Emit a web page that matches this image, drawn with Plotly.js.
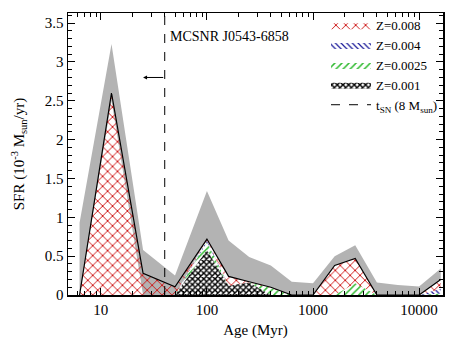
<!DOCTYPE html>
<html>
<head>
<meta charset="utf-8">
<script src="https://cdn.plot.ly/plotly-3.0.1.min.js"></script>
<style>
  html, body { margin: 0; padding: 0; background: #fff; }
  #plot { width: 453px; height: 340px; }
</style>
</head>
<body>
<div id="plot"></div>
<script>
// Age bins (Myr)
const ages = [6.3, 12.6, 25, 50, 100, 160, 250, 400, 630, 1000, 1600, 2500, 4000, 6300, 10000, 16000];

// SFR per metallicity (10^-3 Msun/yr), stacked bottom to top
const sfrZ001  = [0, 0,   0,    0,     0.58, 0.12, 0.16, 0,    0, 0, 0,    0,    0, 0, 0, 0];
const sfrZ0025 = [0, 0,   0,    0,     0.10, 0,    0,    0.09, 0, 0, 0,    0.15, 0, 0, 0, 0.02];
const sfrZ004  = [0, 0,   0,    0,     0.02, 0,    0,    0,    0, 0, 0,    0,    0, 0, 0, 0.06];
const sfrZ008  = [0, 2.6, 0.28, 0.105, 0.02, 0.12, 0.01, 0.01, 0, 0, 0.38, 0.32, 0, 0, 0, 0.12];

// error band of the total SFR
const errLow  = [0,    2.5,  0,    0,    0.72, 0.24, 0.17, 0.1,  0,    0,    0.38, 0.47, 0,    0,    0,    0.2];
const errHigh = [0.93, 3.23, 0.58, 0.25, 1.34, 0.70, 0.49, 0.38, 0.17, 0.15, 0.50, 0.64, 0.16, 0.13, 0.11, 0.34];

const tSN = 40;          // Myr
const tArrowTo = 25;     // Myr
const arrowY = 2.8;
const yMax = 3.63;

const xTickVals = [10, 100, 1000, 10000];
const xTickText = ['10', '100', '1000', '10000'];

const FONT = 'Liberation Serif, Times New Roman, serif';

// cumulative sums for the stacked areas
const cum = [];
let run = ages.map(() => 0);
[sfrZ001, sfrZ0025, sfrZ004, sfrZ008].forEach(arr => {
  run = run.map((v, i) => v + arr[i]);
  cum.push(run.slice());
});
const total = cum[3];

const noPat = 'rgba(0,0,0,0)';

const traceLow = { x: ages, y: errLow, type: 'scatter', mode: 'lines', line: {width: 0}, showlegend: false, hoverinfo: 'skip' };
const traceHigh = { x: ages, y: errHigh, type: 'scatter', mode: 'lines', line: {width: 0}, fill: 'tonexty', fillcolor: '#b3b3b3', showlegend: false, hoverinfo: 'skip' };

const traceZ001 = { x: ages, y: cum[0], type: 'scatter', mode: 'lines', line: {width: 0, color: 'black'}, fill: 'tozeroy', fillcolor: noPat,
  fillpattern: {shape: 'x', size: 4, solidity: 0.6, fgcolor: 'black', bgcolor: noPat}, name: 'Z=0.001', legendrank: 4 };
const traceZ0025 = { x: ages, y: cum[1], type: 'scatter', mode: 'lines', line: {width: 0, color: '#22aa22'}, fill: 'tonexty', fillcolor: noPat,
  fillpattern: {shape: '/', size: 5, solidity: 0.3, fgcolor: '#33bb33', bgcolor: noPat}, name: 'Z=0.0025', legendrank: 3 };
const traceZ004 = { x: ages, y: cum[2], type: 'scatter', mode: 'lines', line: {width: 0, color: '#1a1a99'}, fill: 'tonexty', fillcolor: noPat,
  fillpattern: {shape: '\\', size: 4, solidity: 0.3, fgcolor: '#1a1a99', bgcolor: noPat}, name: 'Z=0.004', legendrank: 2 };
const traceZ008 = { x: ages, y: cum[3], type: 'scatter', mode: 'lines', line: {width: 0, color: '#cc2222'}, fill: 'tonexty', fillcolor: noPat,
  fillpattern: {shape: 'x', size: 7, solidity: 0.25, fgcolor: '#cc1111', bgcolor: noPat}, name: 'Z=0.008', legendrank: 1 };

const traceTotal = { x: ages, y: total, type: 'scatter', mode: 'lines', line: {color: 'black', width: 1.2}, showlegend: false, hoverinfo: 'skip' };
const traceTSN = { x: [tSN, tSN], y: [0, yMax], type: 'scatter', mode: 'lines', line: {color: 'black', width: 1, dash: 'dash'},
  name: 't<sub>SN</sub> (8 M<sub>sun</sub>)', legendrank: 5 };

const axisCommon = {
  showline: true, linecolor: 'black', linewidth: 1.5, mirror: 'ticks',
  ticks: 'inside', ticklen: 7, tickwidth: 1, tickcolor: 'black',
  showgrid: false, zeroline: false,
  tickfont: {family: FONT, size: 15, color: 'black'}
};

const layout = {
  width: 453, height: 340,
  margin: {l: 68, r: 10, t: 10, b: 45},
  paper_bgcolor: 'white', plot_bgcolor: 'white',
  font: {family: FONT, color: 'black'},
  xaxis: Object.assign({}, axisCommon, {
    type: 'log', range: [Math.log10(4.9), Math.log10(16800)],
    tickvals: xTickVals, ticktext: xTickText,
    minor: {ticks: 'inside', ticklen: 4, tickcolor: 'black', dtick: 'D1', showgrid: false},
    title: {text: 'Age (Myr)', font: {family: FONT, size: 15}, standoff: 8}
  }),
  yaxis: Object.assign({}, axisCommon, {
    range: [0, yMax], dtick: 0.5,
    minor: {ticks: 'inside', ticklen: 4, tickcolor: 'black', dtick: 0.1, showgrid: false},
    title: {text: 'SFR (10<sup>-3</sup> M<sub>sun</sub>/yr)', font: {family: FONT, size: 15}, standoff: 16}
  }),
  legend: {x: 1, y: 1.01, xanchor: 'right', yanchor: 'top', bgcolor: 'rgba(0,0,0,0)', traceorder: 'normal',
    font: {family: FONT, size: 13, color: 'black'}, tracegroupgap: 0, itemwidth: 40},
  annotations: [
    {x: Math.log10(tSN) + 0.03, y: 3.33, xref: 'x', yref: 'y', text: 'MCSNR J0543-6858', showarrow: false,
      xanchor: 'left', yanchor: 'middle', font: {family: FONT, size: 14, color: 'black'}},
    {x: Math.log10(tArrowTo), y: arrowY, ax: Math.log10(tSN), ay: arrowY, xref: 'x', yref: 'y', axref: 'x', ayref: 'y',
      text: '', showarrow: true, arrowhead: 2, arrowsize: 0.8, arrowwidth: 1, arrowcolor: 'black'}
  ]
};

Plotly.newPlot('plot', [traceLow, traceHigh, traceZ001, traceZ0025, traceZ004, traceZ008, traceTotal, traceTSN],
  layout, {staticPlot: true});
</script>
</body>
</html>
